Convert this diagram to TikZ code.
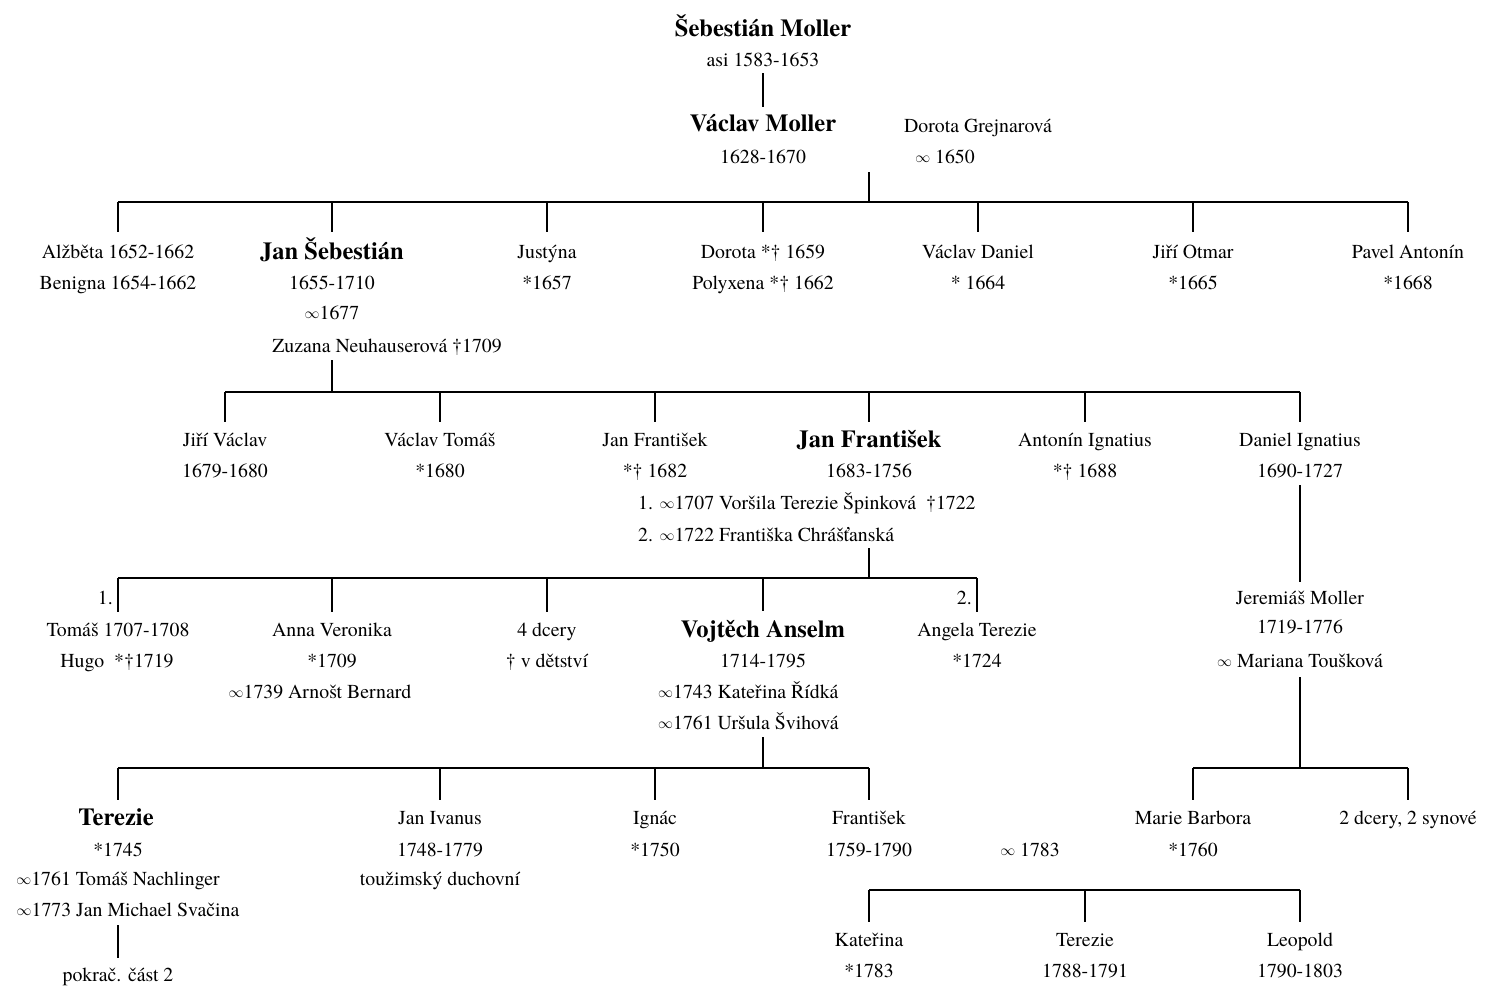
\documentclass[tikz,border=0pt]{standalone}
\usepackage{fontspec}
\setmainfont{texgyretermes}[Extension=.otf, UprightFont=*-regular, BoldFont=*-bold]
\usetikzlibrary{calc}
\newcommand{\rgfont}{\fontsize{19.8}{24}\selectfont}
\newcommand{\bdfont}{\fontsize{24.5}{30}\selectfont\bfseries}
\newcommand{\marr}{\raisebox{0.9pt}{\scalebox{0.72}{$\infty$}}}
\begin{document}
\begin{tikzpicture}[x=1pt,y=1pt,
  t/.style={inner sep=0pt, text height=13.4pt, text depth=0pt, font=\rgfont},
  b/.style={inner sep=0pt, text height=16.2pt, text depth=0pt, font=\bdfont},
  ln/.style={line width=1.3pt, black}]
\useasboundingbox (0,0) rectangle (1486,-986);
\fill[white] (0,0) rectangle (1486,-986);

% ---- Level 0
\node[b] (seb1) at (763,-28) {Šebestián Moller};
\node[t] (seb2) at (763,-60) {asi 1583-1653};
\node[b] (vac1) at (763,-123) {Václav Moller};
\node[t] (vac2) at (763,-157) {1628-1670};
\node[t] (dor1) at (978,-126) {Dorota Grejnarová};
\node[t] (dor2) at (945,-157) {\marr{} 1650};
\draw[ln] ($(seb2.center)+(0,-13)$) -- ($(vac1.center)+(0,16)$);
\coordinate (m1) at (869,-172);
\coordinate (bar1) at (869,-202);

% ---- Level 1
\node[t] (a1) at (118,-252) {Alžběta 1652-1662};
\node[t] (a2) at (118,-283) {Benigna 1654-1662};
\node[b] (js1) at (332,-251) {Jan Šebestián};
\node[t] (js2) at (332,-283) {1655-1710};
\node[t] (js3) at (332,-313) {\marr1677};
\node[t] (js4) at (387,-346) {Zuzana Neuhauserová \dag1709};
\node[t] (ju1) at (547,-252) {Justýna};
\node[t] (ju2) at (547,-283) {*1657};
\node[t] (do1) at (763,-252) {Dorota *\dag{} 1659};
\node[t] (do2) at (763,-283) {Polyxena *\dag{} 1662};
\node[t] (vd1) at (978,-252) {Václav Daniel};
\node[t] (vd2) at (978,-283) {* 1664};
\node[t] (jo1) at (1193,-252) {Jiří Otmar};
\node[t] (jo2) at (1193,-283) {*1665};
\node[t] (pa1) at (1408,-252) {Pavel Antonín};
\node[t] (pa2) at (1408,-283) {*1668};

\draw[ln] (m1) -- (bar1);
\draw[ln] (a1.center |- bar1) -- (pa1.center |- bar1);
\foreach \n in {a1,ju1,do1,vd1,jo1,pa1}
  \draw[ln] (\n.center |- bar1) -- ($(\n.center)+(0,20)$);
\draw[ln] (js1.center |- bar1) -- ($(js1.center)+(0,19)$);

% ---- Level 2
\coordinate (bar2) at (332,-392);
\node[t] (jv1) at (225,-440) {Jiří Václav};
\node[t] (jv2) at (225,-471) {1679-1680};
\node[t] (vt1) at (440,-440) {Václav Tomáš};
\node[t] (vt2) at (440,-471) {*1680};
\node[t] (jf1) at (655,-440) {Jan František};
\node[t] (jf2) at (655,-471) {*\dag{} 1682};
\node[b] (jfb1) at (869,-439) {Jan František};
\node[t] (jfb2) at (869,-471) {1683-1756};
\node[t,anchor=west] (jfb3) at (638,-503) {1. \marr1707 Voršila Terezie Špinková\ \ \dag1722};
\node[t,anchor=west] (jfb4) at (638,-535) {2. \marr1722 Františka Chrášťanská};
\node[t] (ai1) at (1085,-440) {Antonín Ignatius};
\node[t] (ai2) at (1085,-471) {*\dag{} 1688};
\node[t] (di1) at (1300,-440) {Daniel Ignatius};
\node[t] (di2) at (1300,-471) {1690-1727};

\draw[ln] ($(js1.center |- js4.center)+(0,-14)$) -- (bar2);
\draw[ln] (jv1.center |- bar2) -- (di1.center |- bar2);
\foreach \n in {jv1,vt1,jf1,ai1,di1}
  \draw[ln] (\n.center |- bar2) -- ($(\n.center)+(0,18)$);
\draw[ln] (jfb1.center |- bar2) -- ($(jfb1.center)+(0,17)$);

% ---- Level 3
\coordinate (bar3) at (869,-578);
\node[t] (to1) at (118,-630) {Tomáš 1707-1708};
\node[t] (to2) at (117,-661) {Hugo\ \ *\dag1719};
\node[t] (av1) at (332,-630) {Anna Veronika};
\node[t] (av2) at (332,-661) {*1709};
\node[t] (av3) at (320,-692) {\marr1739 Arnošt Bernard};
\node[t] (dc1) at (547,-630) {4 dcery};
\node[t] (dc2) at (547,-661) {\dag{} v dětství};
\node[b] (va1) at (763,-629) {Vojtěch Anselm};
\node[t] (va2) at (763,-661) {1714-1795};
\node[t,anchor=west] (va3) at (658,-692) {\marr1743 Kateřina Řídká};
\node[t,anchor=west] (va4) at (658,-723) {\marr1761 Uršula Švihová};
\node[t] (at1) at (977,-630) {Angela Terezie};
\node[t] (at2) at (977,-661) {*1724};
\node[t,anchor=east] (n1) at (113,-598) {1.};
\node[t,anchor=east] (n2) at (972,-598) {2.};

\draw[ln] ($(jfb1.center |- jfb4.center)+(0,-13)$) -- (bar3);
\draw[ln] (to1.center |- bar3) -- (at1.center |- bar3);
\foreach \n in {to1,av1,dc1,at1}
  \draw[ln] (\n.center |- bar3) -- ($(\n.center)+(0,18)$);
\draw[ln] (va1.center |- bar3) -- ($(va1.center)+(0,18)$);

\node[t] (jm1) at (1300,-598) {Jeremiáš Moller};
\node[t] (jm2) at (1300,-627) {1719-1776};
\node[t] (jm3) at (1300,-661) {\marr{} Mariana Toušková};
\draw[ln] ($(di2.center)+(0,-14)$) -- ($(jm1.center)+(0,16)$);

% ---- Level 4
\coordinate (bar4) at (763,-768);
\coordinate (bar5) at (1300,-768);
\node[b] (te1) at (116,-817) {Terezie};
\node[t] (te2) at (118,-850) {*1745};
\node[t] (te3) at (118,-879) {\marr1761 Tomáš Nachlinger};
\node[t] (te4) at (128,-910) {\marr1773 Jan Michael Svačina};
\node[t] (pk) at (118,-975) {pokrač. část 2};
\node[t] (ji1) at (440,-818) {Jan Ivanus};
\node[t] (ji2) at (440,-850) {1748-1779};
\node[t] (ji3) at (440,-879) {toužimský duchovní};
\node[t] (ig1) at (655,-818) {Ignác};
\node[t] (ig2) at (655,-850) {*1750};
\node[t] (fr1) at (869,-818) {František};
\node[t] (fr2) at (869,-850) {1759-1790};
\node[t] (mr) at (1030,-850) {\marr{} 1783};
\node[t] (mb1) at (1193,-818) {Marie Barbora};
\node[t] (mb2) at (1193,-850) {*1760};
\node[t] (dd) at (1408,-818) {2 dcery, 2 synové};

\draw[ln] ($(va1.center |- va4.center)+(0,-14)$) -- (bar4);
\draw[ln] (te2.center |- bar4) -- (fr1.center |- bar4);
\foreach \n in {ji1,ig1,fr1}
  \draw[ln] (\n.center |- bar4) -- ($(\n.center)+(0,18)$);
\draw[ln] (te2.center |- bar4) -- ($(te2.center |- te1.center)+(0,17)$);
\draw[ln] ($(te2.center |- te4.center)+(0,-15)$) -- ($(pk.center)+(0,17)$);

\draw[ln] ($(jm3.center)+(0,-16)$) -- (bar5);
\draw[ln] (mb1.center |- bar5) -- (dd.center |- bar5);
\foreach \n in {mb1,dd}
  \draw[ln] (\n.center |- bar5) -- ($(\n.center)+(0,18)$);

% ---- Level 5
\coordinate (bar6) at (1085,-890);
\node[t] (ka1) at (869,-940) {Kateřina};
\node[t] (ka2) at (869,-971) {*1783};
\node[t] (tz1) at (1085,-940) {Terezie};
\node[t] (tz2) at (1085,-971) {1788-1791};
\node[t] (le1) at (1300,-940) {Leopold};
\node[t] (le2) at (1300,-971) {1790-1803};
\draw[ln] (ka1.center |- bar6) -- (le1.center |- bar6);
\foreach \n in {ka1,tz1,le1}
  \draw[ln] (\n.center |- bar6) -- ($(\n.center)+(0,18)$);
\end{tikzpicture}
\end{document}
